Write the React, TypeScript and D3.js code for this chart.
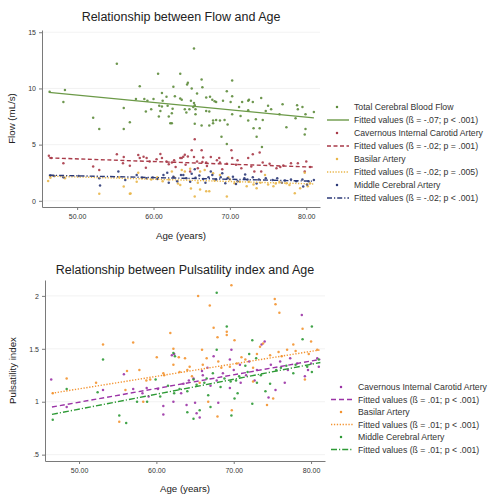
import React, { useEffect, useRef } from "react";
import * as d3 from "d3";

// ---- top panel data: [age, flow mL/s]
const tcbfPts: [number, number][] = [
  [46.4, 9.7], [48.4, 9.85], [48.2, 8.8], [52.1, 7.4], [52.9, 6.4], [55.2, 12.2], [56.1, 8.25], [56.9, 7.0],
  [56.1, 6.4], [58.2, 10.2], [57.7, 9.05], [58.8, 9.05], [59.2, 8.9], [60.0, 9.05], [60.6, 11.3], [60.75, 8.45],
  [59.0, 7.95], [59.7, 8.15], [60.9, 8.0], [61.1, 9.6], [61.2, 8.9], [61.7, 9.25], [61.85, 8.45], [62.0, 7.5],
  [62.4, 7.8], [62.5, 8.2], [62.6, 10.15], [62.8, 9.3], [63.5, 11.3], [63.5, 9.1], [63.7, 9.0], [62.4, 6.9],
  [65.3, 13.55], [64.5, 10.5], [64.4, 10.35], [66.3, 10.8], [66.4, 10.1], [65.0, 10.0], [65.7, 9.55], [70.3, 10.7],
  [69.6, 9.75], [70.3, 9.3], [64.9, 8.9], [65.3, 8.7], [65.4, 8.5], [66.9, 9.2], [67.4, 9.25], [67.7, 9.0],
  [68.0, 8.85], [68.2, 8.8], [69.1, 8.9], [70.1, 8.8], [71.6, 8.8], [72.4, 8.9], [72.5, 9.0], [73.0, 8.8],
  [74.1, 9.15], [64.1, 8.15], [64.3, 7.85], [64.7, 8.15], [65.2, 8.35], [65.5, 8.15], [65.5, 7.7], [65.4, 6.85],
  [66.9, 8.0], [67.3, 7.95], [67.8, 7.15], [68.2, 7.2], [66.3, 6.7], [67.3, 6.7], [67.8, 6.9], [68.7, 7.15],
  [69.3, 7.2], [69.7, 6.8], [70.3, 7.7], [71.2, 8.35], [71.4, 7.55], [72.4, 8.05], [72.4, 7.15], [73.4, 7.25],
  [74.3, 7.2], [74.7, 8.0], [75.0, 8.45], [75.4, 8.15], [73.9, 6.45], [73.1, 6.45], [76.5, 7.7], [76.9, 8.6],
  [77.4, 6.55], [78.6, 7.35], [78.8, 8.5], [78.9, 8.15], [79.5, 8.35], [79.9, 7.7], [79.9, 6.4], [81.0, 7.9],
  [73.5, 5.7], [74.2, 4.8], [68.9, 5.7], [69.6, 5.05], [79.8, 5.9], [61.1, 8.4], [60.7, 7.5], [62.2, 6.9],
];
const cicaFlowPts: [number, number][] = [
  [46.3, 4.0], [46.6, 3.8], [48.2, 3.35], [52.1, 3.05], [52.9, 2.75], [55.2, 4.15], [56.0, 3.35], [56.9, 3.13],
  [58.0, 4.08], [58.2, 3.8], [58.7, 3.93], [59.1, 3.8], [59.5, 3.5], [60.4, 3.7], [60.9, 4.17], [61.1, 3.8],
  [61.7, 3.5], [62.4, 3.4], [62.0, 3.25], [62.7, 3.6], [63.5, 3.8], [63.9, 3.93], [59.0, 2.95], [56.1, 3.9],
  [65.4, 5.47], [65.0, 4.5], [66.3, 4.5], [70.2, 4.5], [64.1, 4.1], [63.7, 3.8], [64.5, 3.95], [65.3, 3.9],
  [66.5, 3.85], [67.5, 3.9], [68.6, 3.8], [68.3, 3.6], [65.7, 3.5], [66.4, 3.45], [66.9, 3.4], [68.7, 3.4],
  [69.6, 3.3], [70.8, 3.2], [70.3, 3.8], [72.4, 3.8], [73.0, 4.15], [73.9, 4.3], [74.3, 3.4], [75.2, 3.3],
  [76.1, 2.9], [77.0, 3.15], [78.0, 3.35], [78.9, 3.35], [80.0, 3.5], [79.8, 2.6], [72.8, 3.05], [71.5, 2.9],
  [73.2, 2.6], [74.1, 2.6], [64.2, 3.2], [65.8, 2.9], [67.0, 3.1], [69.0, 2.8], [71.0, 3.6], [76.6, 3.0],
  [80.5, 3.0], [62.9, 3.0], [64.8, 2.6],
];
const basilarFlowPts: [number, number][] = [
  [46.2, 1.77], [46.5, 2.05], [48.4, 2.0], [52.9, 0.62], [56.1, 1.27], [56.9, 0.62], [57.8, 1.7], [58.0, 2.5],
  [59.7, 1.9], [60.5, 2.1], [61.2, 1.75], [62.0, 1.9], [62.4, 2.6], [62.7, 2.1], [63.2, 1.55], [63.5, 1.4],
  [63.7, 2.75], [64.1, 2.6], [64.8, 2.85], [65.4, 0.38], [64.9, 1.1], [66.1, 1.0], [66.9, 0.85], [67.3, 0.85],
  [69.6, 0.38], [66.1, 2.6], [66.7, 2.75], [67.8, 2.45], [68.7, 2.3], [69.8, 2.1], [70.6, 1.57], [71.3, 1.7],
  [72.2, 1.3], [73.1, 1.45], [73.5, 1.12], [74.6, 2.3], [75.0, 1.45], [75.7, 1.3], [76.5, 1.7], [77.4, 1.57],
  [78.5, 0.68], [79.2, 1.12], [79.8, 2.5], [80.5, 1.57], [58.5, 2.0], [65.8, 1.6], [68.0, 1.8], [70.0, 1.9],
  [72.5, 1.7], [74.0, 1.6], [76.0, 1.55], [77.8, 1.4], [80.2, 1.3], [57.0, 0.65], [55.5, 2.1],
];
const mcaFlowPts: [number, number][] = [
  [46.5, 2.25], [47.0, 2.2], [48.2, 2.1], [53.0, 1.36], [55.4, 2.6], [52.9, 2.0], [57.8, 2.3], [59.1, 2.0],
  [61.3, 2.3], [62.6, 2.15], [62.0, 1.6], [63.1, 1.75], [63.6, 2.3], [56.3, 1.86], [59.9, 2.07], [63.9, 2.3],
  [64.3, 2.0], [65.5, 2.05], [66.0, 2.25], [66.5, 1.95], [67.2, 2.1], [67.7, 2.3], [68.2, 1.9], [68.8, 2.1],
  [69.7, 2.0], [70.4, 2.15], [71.0, 1.75], [71.9, 2.0], [72.3, 1.9], [73.0, 2.1], [73.8, 1.9], [74.7, 2.0],
  [75.6, 1.85], [76.2, 2.0], [77.2, 1.8], [78.0, 1.9], [78.7, 1.75], [79.5, 1.9], [80.3, 1.75], [67.5, 2.6],
  [65.4, 2.8], [79.6, 1.27], [80.1, 1.45], [69.4, 1.57], [64.8, 1.7], [66.8, 1.6], [70.8, 1.5], [73.5, 1.55],
  [76.8, 1.6], [81.0, 1.85], [60.5, 1.95], [58.5, 2.05], [50.2, 2.2], [61.8, 2.5], [65.0, 2.4], [69.0, 2.45],
  [72.0, 2.35],
];
const flowFitAges = [46.3, 81.0];
const tcbfFit = [9.65, 7.38];
const cicaFlowFit = [3.82, 3.0];
const basilarFlowFit = [2.2, 1.5];
const mcaFlowFit = [2.28, 1.75];

// ---- bottom panel data: [age, pulsatility index]
const cicaPiPts: [number, number][] = [
  [46.4, 1.21], [48.4, 0.95], [53.1, 1.11], [55.8, 1.26], [58.75, 1.13], [59.0, 1.05], [60.9, 0.96], [60.9, 0.88],
  [62.2, 1.0], [62.0, 1.44], [63.9, 0.97], [65.0, 0.99], [65.2, 0.89], [65.6, 0.85], [65.9, 1.29], [66.6, 1.32],
  [67.4, 1.43], [68.0, 0.99], [69.5, 1.4], [69.7, 1.49], [69.5, 1.13], [70.8, 1.35], [72.7, 1.2], [73.6, 1.54],
  [74.5, 1.04], [75.4, 1.11], [77.3, 1.41], [78.8, 1.82], [79.2, 1.24], [80.0, 1.36], [81.0, 1.33], [80.8, 1.41],
  [76.6, 1.18], [62.3, 1.45], [64.2, 1.2], [67.0, 1.15], [71.6, 1.25], [74.0, 1.57], [63.2, 1.08], [68.6, 1.27],
  [63.5, 1.17], [64.8, 1.22], [66.0, 1.25], [67.8, 1.2], [70.0, 1.3], [70.9, 1.18], [72.0, 1.38], [73.0, 1.3],
  [74.8, 1.35], [76.0, 1.38], [77.0, 1.3], [78.2, 1.36], [79.6, 1.3], [60.2, 1.12], [58.2, 1.08], [57.0, 1.12],
];
const basilarPiPts: [number, number][] = [
  [46.6, 1.08], [48.4, 1.22], [52.2, 1.18], [53.1, 1.54], [57.0, 1.56], [55.2, 0.81], [56.0, 1.11], [56.2, 1.29],
  [57.8, 1.3], [58.3, 1.0], [60.05, 1.42], [61.8, 1.65], [62.2, 1.5], [65.4, 2.0], [66.9, 1.91], [67.4, 1.7],
  [67.9, 1.61], [69.1, 1.63], [69.7, 2.1], [69.1, 1.66], [70.1, 1.58], [75.3, 1.97], [75.4, 1.92], [75.9, 1.84],
  [78.9, 1.69], [80.0, 1.57], [80.8, 1.49], [67.9, 0.86], [69.75, 0.92], [79.2, 1.21], [74.3, 0.97], [75.1, 1.03],
  [64.3, 1.33], [63.7, 1.41], [62.9, 1.42], [65.9, 1.49], [64.6, 1.24], [72.5, 1.32], [71.5, 1.4], [72.5, 1.19],
  [73.4, 1.52], [73.8, 1.55], [74.7, 1.44], [76.2, 1.43], [76.9, 1.49], [77.7, 1.54], [70.4, 1.36], [65.6, 1.18],
  [66.5, 1.41], [66.7, 1.0], [68.4, 1.32], [59.2, 1.21], [60.9, 1.27], [62.2, 1.35],
  [63.0, 1.28], [64.0, 1.3], [66.0, 1.35], [68.0, 1.38], [69.5, 1.33], [71.0, 1.42], [73.0, 1.45], [75.8, 1.47],
  [78.0, 1.48], [79.7, 1.45], [58.7, 1.2], [61.0, 1.25],
];
const mcaPiPts: [number, number][] = [
  [46.6, 0.83], [48.4, 1.12], [52.4, 1.09], [53.1, 1.4], [55.2, 0.87], [56.1, 0.8], [58.8, 1.0], [62.2, 1.46],
  [62.3, 1.08], [64.0, 0.9], [64.8, 0.84], [65.6, 0.92], [67.8, 2.03], [67.8, 1.49], [69.1, 1.71], [69.7, 0.87],
  [70.1, 1.03], [70.5, 1.08], [72.4, 0.98], [72.4, 1.58], [72.9, 1.41], [74.1, 1.1], [78.9, 1.59], [80.1, 1.71],
  [80.1, 1.28], [81.0, 1.4], [64.8, 1.21], [66.5, 1.22], [67.3, 1.27], [68.3, 1.14], [71.5, 1.34], [74.7, 1.17],
  [76.1, 1.32], [77.7, 1.27], [59.9, 1.21], [61.5, 1.15], [64.0, 1.1], [66.7, 1.06], [69.6, 1.19], [62.4, 1.43],
  [70.3, 1.2], [73.5, 1.25], [63.0, 1.12], [65.2, 1.16], [66.2, 1.18], [68.8, 1.22], [70.7, 1.24], [71.8, 1.28],
  [73.0, 1.18], [75.5, 1.3], [76.8, 1.34], [78.0, 1.35], [79.5, 1.33], [57.5, 1.0], [60.5, 1.05], [67.0, 0.95],
  [72.0, 1.45],
];
const piFitAges = [46.5, 81.2];
const cicaPiFit = [0.95, 1.4];
const basilarPiFit = [1.08, 1.49];
const mcaPiFit = [0.88, 1.37];

// ---- labels
const ageTicks = [50, 60, 70, 80];
const ageTickLabels = ["50.00", "60.00", "70.00", "80.00"];
const flowTicks = [0, 5, 10, 15];
const flowTickLabels = ["0", "5", "10", "15"];
const piTicks = [0.5, 1, 1.5, 2];
const piTickLabels = [".5", "1", "1.5", "2"];
const flowLegend = [
  "Total Cerebral Blood Flow", "Fitted values (ß = -.07; p < .001)",
  "Cavernous Internal Carotid Artery", "Fitted values (ß = -.02; p = .001)",
  "Basilar Artery", "Fitted values (ß = -.02; p = .005)",
  "Middle Cerebral Artery", "Fitted values (ß = -.02; p < .001)",
];
const piLegend = [
  "Cavernous Internal Carotid Artery", "Fitted values (ß = .01; p < .001)",
  "Basilar Artery", "Fitted values (ß = .01; p < .001)",
  "Middle Cerebral Artery", "Fitted values (ß = .01; p < .001)",
];

const FONT = "'Liberation Sans', Arial, Helvetica, sans-serif";

function drawPanel(svg, cfg) {
  const { x, y, yTicks, yLabels, title, titleY, titleX, yTitle, yTitleX, xTitleY, series, legendX, legendY, legendStep, labels } = cfg;
  const [x0, x1] = x.range();
  const [yb, yt] = y.range();
  const g = svg.append("g");

  // gridlines
  g.selectAll(".grid")
    .data(yTicks)
    .enter()
    .append("line")
    .attr("x1", x0)
    .attr("x2", x1)
    .attr("y1", (d) => y(d))
    .attr("y2", (d) => y(d))
    .attr("stroke", "#efefef")
    .attr("stroke-width", 0.8);

  const line = d3.line().x((d) => x(d[0])).y((d) => y(d[1]));

  series.forEach((s) => {
    g.append("g")
      .selectAll("circle")
      .data(s.pts)
      .enter()
      .append("circle")
      .attr("cx", (d) => x(d[0]))
      .attr("cy", (d) => y(d[1]))
      .attr("r", 1.25)
      .attr("fill", s.color)
      .attr("fill-opacity", 0.9);
  });
  series.forEach((s) => {
    g.append("path")
      .datum(s.fitAges.map((a, i) => [a, s.fit[i]]))
      .attr("d", line)
      .attr("fill", "none")
      .attr("stroke", s.lineColor)
      .attr("stroke-width", 1.4)
      .attr("stroke-dasharray", s.dash);
  });

  // axes
  const xAxis = g.append("g")
    .attr("transform", `translate(0,${yb})`)
    .call(d3.axisBottom(x).tickValues(ageTicks).tickSize(3).tickSizeOuter(0)
      .tickFormat((d, i) => ageTickLabels[i]));
  const yAxis = g.append("g")
    .attr("transform", `translate(${x0},0)`)
    .call(d3.axisLeft(y).tickValues(yTicks).tickSize(3).tickSizeOuter(0)
      .tickFormat((d, i) => yLabels[i]));
  [xAxis, yAxis].forEach((a) => {
    a.select(".domain").attr("stroke", "#7a7a7a").attr("stroke-width", 1);
    a.selectAll(".tick line").attr("stroke", "#7a7a7a");
    a.selectAll("text").attr("font-family", FONT).attr("font-size", 7).attr("fill", "#333");
  });
  xAxis.selectAll("text").attr("dy", "0.9em");

  // titles
  g.append("text")
    .attr("x", titleX)
    .attr("y", titleY)
    .attr("text-anchor", "middle")
    .attr("font-family", FONT)
    .attr("font-size", 12.5)
    .attr("fill", "#222")
    .text(title);
  g.append("text")
    .attr("x", (x0 + x1) / 2)
    .attr("y", xTitleY)
    .attr("text-anchor", "middle")
    .attr("font-family", FONT)
    .attr("font-size", 9.7)
    .attr("fill", "#222")
    .text("Age (years)");
  g.append("text")
    .attr("transform", `translate(${yTitleX},${(yb + yt) / 2}) rotate(-90)`)
    .attr("text-anchor", "middle")
    .attr("font-family", FONT)
    .attr("font-size", 9.7)
    .attr("fill", "#222")
    .text(yTitle);

  // legend
  const lg = g.append("g");
  series.forEach((s, i) => {
    const ry = legendY + i * 2 * legendStep;
    lg.append("circle")
      .attr("cx", legendX + 10)
      .attr("cy", ry)
      .attr("r", 1.25)
      .attr("fill", s.color);
    lg.append("line")
      .attr("x1", legendX)
      .attr("x2", legendX + 22)
      .attr("y1", ry + legendStep)
      .attr("y2", ry + legendStep)
      .attr("stroke", s.lineColor)
      .attr("stroke-width", 1.4)
      .attr("stroke-dasharray", s.dash);
  });
  lg.selectAll("text")
    .data(labels)
    .enter()
    .append("text")
    .attr("x", legendX + 27)
    .attr("y", (d, i) => legendY + i * legendStep)
    .attr("dy", "0.35em")
    .attr("font-family", FONT)
    .attr("font-size", 8.7)
    .attr("fill", "#333")
    .text((d) => d);
}

const App = () => {
  const svgRef = useRef(null);

  useEffect(() => {
    const svg = d3.select(svgRef.current);

    const xTop = d3.scaleLinear().domain([45.4, 81.8]).range([42, 320]);
    const yTop = d3.scaleLinear().domain([-0.55, 15.2]).range([207, 30]);
    drawPanel(svg, {
      x: xTop,
      y: yTop,
      yTicks: flowTicks,
      yLabels: flowTickLabels,
      title: "Relationship between Flow and Age",
      titleX: 181,
      titleY: 21,
      yTitle: "Flow (mL/s)",
      yTitleX: 15,
      xTitleY: 239,
      legendX: 327,
      legendY: 107,
      legendStep: 13,
      labels: flowLegend,
      series: [
        { pts: tcbfPts, fitAges: flowFitAges, fit: tcbfFit, color: "#5e8c3c", lineColor: "#6c9a48", dash: null },
        { pts: cicaFlowPts, fitAges: flowFitAges, fit: cicaFlowFit, color: "#a83a48", lineColor: "#a83a48", dash: "4,2.5" },
        { pts: basilarFlowPts, fitAges: flowFitAges, fit: basilarFlowFit, color: "#e9b64a", lineColor: "#e9b64a", dash: "1.3,1.5" },
        { pts: mcaFlowPts, fitAges: flowFitAges, fit: mcaFlowFit, color: "#2c3a78", lineColor: "#2c3a78", dash: "5,2,1.2,2" },
      ],
    });

    const xBot = d3.scaleLinear().domain([45.6, 81.8]).range([45, 325]);
    const yBot = d3.scaleLinear().domain([0.44, 2.15]).range([461, 280]);
    drawPanel(svg, {
      x: xBot,
      y: yBot,
      yTicks: piTicks,
      yLabels: piTickLabels,
      title: "Relationship between Pulsatility index and Age",
      titleX: 185,
      titleY: 274,
      yTitle: "Pulsatility index",
      yTitleX: 16,
      xTitleY: 492,
      legendX: 331,
      legendY: 387,
      legendStep: 12.5,
      labels: piLegend,
      series: [
        { pts: cicaPiPts, fitAges: piFitAges, fit: cicaPiFit, color: "#9b34a6", lineColor: "#9b34a6", dash: "5,3" },
        { pts: basilarPiPts, fitAges: piFitAges, fit: basilarPiFit, color: "#f39330", lineColor: "#f39330", dash: "1.3,1.6" },
        { pts: mcaPiPts, fitAges: piFitAges, fit: mcaPiFit, color: "#2e9a36", lineColor: "#2e9a36", dash: "6,2,1.2,2" },
      ],
    });

    return () => {
      svg.selectAll("*").remove();
    };
  }, []);

  return (
    <svg
      ref={svgRef}
      width={495}
      height={494}
      style={{ position: "absolute", left: 0, top: 0, background: "#fff" }}
    />
  );
};

export default App;
